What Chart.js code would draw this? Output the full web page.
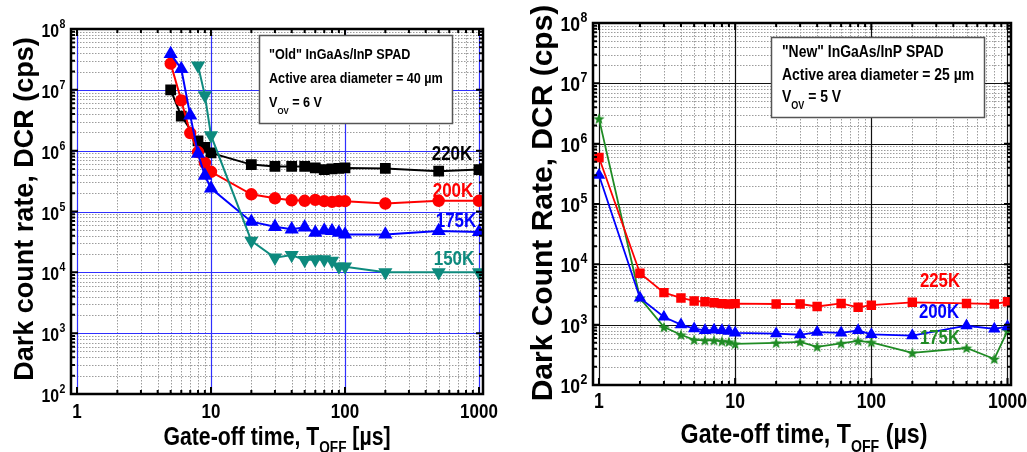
<!DOCTYPE html>
<html>
<head>
<meta charset="utf-8">
<script src="https://cdn.jsdelivr.net/npm/chart.js@4.4.1/dist/chart.umd.min.js"></script>
<style>
  html, body { margin: 0; padding: 0; background: #fff; }
  #wrap { position: relative; width: 1027px; height: 452px; }
  #wrap canvas { position: absolute; left: 0; top: 0; }
</style>
</head>
<body>
<div id="wrap">
  <canvas id="old-chart" width="1027" height="452"></canvas>
  <canvas id="new-chart" width="1027" height="452"></canvas>
</div>
<script>
// ---- data ----
// "Old" SPAD (left panel)
const oldX220 = [5, 6, 8, 9, 10, 20, 30, 40, 50, 60, 70, 80, 90, 100, 200, 500, 1000];
const oldDcr220 = [1.0e7, 3.7e6, 1.45e6, 1.13e6, 9.2e5, 5.9e5, 5.5e5, 5.5e5, 5.5e5, 5.2e5, 4.9e5, 5.0e5, 5.1e5, 5.2e5, 5.1e5, 4.6e5, 4.9e5];
const oldX200 = [5, 6, 7, 8, 9, 10, 20, 30, 40, 50, 60, 70, 80, 90, 100, 200, 500, 1000];
const oldDcr200 = [2.7e7, 6.7e6, 1.95e6, 9.5e5, 6.3e5, 4.5e5, 1.92e5, 1.65e5, 1.53e5, 1.5e5, 1.55e5, 1.48e5, 1.44e5, 1.48e5, 1.48e5, 1.35e5, 1.5e5, 1.5e5];
const oldX175 = [5, 6, 7, 8, 9, 10, 20, 30, 40, 50, 60, 70, 80, 90, 100, 200, 500, 1000];
const oldDcr175 = [3.9e7, 2.2e7, 3.8e6, 8.9e5, 3.9e5, 2.4e5, 6.8e4, 5.6e4, 5.1e4, 5.5e4, 4.5e4, 4.9e4, 4.8e4, 4.5e4, 4.2e4, 4.2e4, 4.8e4, 4.6e4];
const oldX150 = [8, 9, 10, 20, 30, 40, 50, 60, 70, 80, 90, 100, 200, 500, 1000];
const oldDcr150 = [2.5e7, 8.1e6, 1.78e6, 3.3e4, 1.74e4, 1.92e4, 1.59e4, 1.63e4, 1.63e4, 1.55e4, 1.24e4, 1.24e4, 1.0e4, 1.0e4, 1.0e4];

// "New" SPAD (right panel)
const newX = [1, 2, 3, 4, 5, 6, 7, 8, 9, 10, 20, 30, 40, 60, 80, 100, 200, 500, 800, 1000];
const newDcr225 = [5.9e5, 7.1e3, 3.4e3, 2.77e3, 2.47e3, 2.4e3, 2.3e3, 2.23e3, 2.2e3, 2.23e3, 2.2e3, 2.2e3, 2.0e3, 2.25e3, 1.94e3, 2.1e3, 2.35e3, 2.25e3, 2.2e3, 2.4e3];
const newDcr200 = [3.0e5, 2.77e3, 1.34e3, 1.0e3, 8.6e2, 8.05e2, 8.2e2, 8.0e2, 7.8e2, 7.3e2, 7.1e2, 6.8e2, 7.5e2, 7.3e2, 8.0e2, 6.9e2, 6.6e2, 9.6e2, 8.5e2, 9.3e2];
const newDcr175 = [2.6e6, 2.77e3, 9.1e2, 6.8e2, 5.6e2, 5.5e2, 5.5e2, 5.3e2, 5.2e2, 4.8e2, 5.0e2, 5.2e2, 4.3e2, 4.9e2, 5.4e2, 5.1e2, 3.4e2, 4.1e2, 2.7e2, 7.9e2];

// axis ticks
const xDecades = [1, 10, 100, 1000];
const xTickLabels = ['1', '10', '100', '1000'];
const yDecades = [1e2, 1e3, 1e4, 1e5, 1e6, 1e7, 1e8];
const yTickExps = ['2', '3', '4', '5', '6', '7', '8'];
const minorSteps = [2, 3, 4, 5, 6, 7, 8, 9];

const FONT = '"Liberation Sans", Arial, sans-serif';

function pts(xs, ys) {
  return xs.map((x, i) => ({ x: x, y: ys[i] }));
}

function minorsOf(decades) {
  const out = [];
  decades.slice(0, -1).forEach(d => minorSteps.forEach(m => out.push(d * m)));
  return out;
}

// little filled 5 point star used as a point style
function makeStar(color, size) {
  const c = document.createElement('canvas');
  c.width = size; c.height = size;
  const g = c.getContext('2d');
  const r = size / 2, r2 = r * 0.42;
  g.beginPath();
  for (let i = 0; i < 10; i++) {
    const rr = i % 2 ? r2 : r;
    const a = -Math.PI / 2 + i * Math.PI / 5;
    g.lineTo(r + rr * Math.cos(a), r + 0.5 + rr * Math.sin(a));
  }
  g.closePath();
  g.fillStyle = color;
  g.fill();
  return c;
}

// text drawn in runs so sub/superscripts are possible, squeezed horizontally by sx
function drawRuns(ctx, runs, x, y, align, sx, color) {
  ctx.save();
  ctx.fillStyle = color;
  ctx.textBaseline = 'alphabetic';
  ctx.textAlign = 'left';
  let w = 0;
  runs.forEach(r => { ctx.font = r.font; w += ctx.measureText(r.t).width; });
  w *= sx;
  let x0 = align === 'center' ? x - w / 2 : align === 'right' ? x - w : x;
  ctx.translate(x0, y);
  ctx.scale(sx, 1);
  let cx = 0;
  runs.forEach(r => {
    ctx.font = r.font;
    ctx.fillText(r.t, cx, r.dy || 0);
    cx += ctx.measureText(r.t).width;
  });
  ctx.restore();
}

function decorPlugin(cfg) {
  return {
    id: 'decor',
    beforeDatasetsDraw(chart) {
      const { ctx, chartArea: a, scales: { x, y } } = chart;
      ctx.save();
      ctx.beginPath();
      ctx.rect(a.left, a.top, a.right - a.left, a.bottom - a.top);
      ctx.clip();
      ctx.lineWidth = 1;
      // minor grid
      ctx.strokeStyle = '#9c9c9c';
      ctx.setLineDash([1.5, 1.5]);
      minorsOf(xDecades).forEach(v => {
        const px = Math.round(x.getPixelForValue(v)) + 0.5;
        ctx.beginPath(); ctx.moveTo(px, a.top); ctx.lineTo(px, a.bottom); ctx.stroke();
      });
      minorsOf(yDecades).forEach(v => {
        const py = Math.round(y.getPixelForValue(v)) + 0.5;
        ctx.beginPath(); ctx.moveTo(a.left, py); ctx.lineTo(a.right, py); ctx.stroke();
      });
      // major grid
      ctx.setLineDash([]);
      ctx.strokeStyle = cfg.majorColor;
      ctx.lineWidth = 1.2;
      xDecades.forEach(v => {
        const px = Math.round(x.getPixelForValue(v)) + 0.5;
        ctx.beginPath(); ctx.moveTo(px, a.top); ctx.lineTo(px, a.bottom); ctx.stroke();
      });
      yDecades.forEach(v => {
        const py = Math.round(y.getPixelForValue(v)) + 0.5;
        ctx.beginPath(); ctx.moveTo(a.left, py); ctx.lineTo(a.right, py); ctx.stroke();
      });
      ctx.restore();
    },
    afterDatasetsDraw(chart) {
      const { ctx, chartArea: a, scales: { x, y } } = chart;
      ctx.save();
      // tick marks pointing inward on all four sides
      ctx.strokeStyle = '#000';
      ctx.lineWidth = 2;
      const tick = (v, len, horiz) => {
        ctx.beginPath();
        if (horiz) {
          const px = x.getPixelForValue(v);
          ctx.moveTo(px, a.bottom); ctx.lineTo(px, a.bottom - len);
          ctx.moveTo(px, a.top); ctx.lineTo(px, a.top + len);
        } else {
          const py = y.getPixelForValue(v);
          ctx.moveTo(a.left, py); ctx.lineTo(a.left + len, py);
          ctx.moveTo(a.right, py); ctx.lineTo(a.right - len, py);
        }
        ctx.stroke();
      };
      xDecades.forEach(v => tick(v, 7, true));
      minorsOf(xDecades).forEach(v => tick(v, 4, true));
      yDecades.forEach(v => tick(v, 7, false));
      minorsOf(yDecades).forEach(v => tick(v, 4, false));
      // frame
      ctx.lineWidth = 2.5;
      ctx.strokeRect(a.left, a.top, a.right - a.left, a.bottom - a.top);
      ctx.restore();

      // x tick labels
      xDecades.forEach((v, i) => {
        drawRuns(ctx, [{ t: xTickLabels[i], font: 'bold ' + cfg.xTickSize + 'px ' + FONT }],
          x.getPixelForValue(v), cfg.xTickBase, 'center', cfg.xTickSx, '#000');
      });
      // y tick labels 10^n
      yDecades.forEach((v, i) => {
        const py = y.getPixelForValue(v);
        drawRuns(ctx, [{ t: '10', font: 'bold ' + cfg.yTickSize + 'px ' + FONT }],
          cfg.yTickRight, py + 8, 'right', 0.88, '#000');
        drawRuns(ctx, [{ t: yTickExps[i], font: 'bold ' + Math.round(cfg.yTickSize * 0.68) + 'px ' + FONT }],
          cfg.yTickRight + 0.5, py - 1, 'left', 0.88, '#000');
      });

      // y axis title
      ctx.save();
      ctx.translate(cfg.yTitle.x, cfg.yTitle.y);
      ctx.rotate(-Math.PI / 2);
      ctx.font = 'bold ' + cfg.yTitle.size + 'px ' + FONT;
      ctx.fillStyle = '#000';
      ctx.textAlign = 'center';
      ctx.textBaseline = 'alphabetic';
      ctx.fillText(cfg.yTitle.text, 0, 0);
      ctx.restore();

      // x axis title with T_OFF
      const xt = cfg.xTitle;
      const big = 'bold ' + xt.size + 'px ' + FONT;
      const small = 'bold ' + Math.round(xt.size * 0.62) + 'px ' + FONT;
      drawRuns(ctx, [
        { t: 'Gate-off time, T', font: big },
        { t: 'OFF', font: small, dy: xt.subDy },
        { t: ' ' + xt.unit, font: big }
      ], xt.x, xt.y, 'center', xt.sx, '#000');

      // annotation box
      const b = cfg.box;
      ctx.save();
      ctx.fillStyle = '#fff';
      ctx.fillRect(b.x, b.y, b.w, b.h);
      ctx.strokeStyle = '#555';
      ctx.lineWidth = 1.5;
      ctx.strokeRect(b.x + 0.5, b.y + 0.5, b.w, b.h);
      ctx.restore();
      const bf = 'bold ' + b.size + 'px ' + FONT;
      const bs = 'bold ' + Math.round(b.size * 0.65) + 'px ' + FONT;
      drawRuns(ctx, [{ t: b.lines[0], font: bf }], b.tx, b.base[0], 'left', b.sx, '#000');
      drawRuns(ctx, [{ t: b.lines[1], font: bf }], b.tx, b.base[1], 'left', b.sx, '#000');
      drawRuns(ctx, [
        { t: 'V', font: bf },
        { t: 'OV', font: bs, dy: b.subDy },
        { t: ' ' + b.lines[2], font: bf }
      ], b.tx, b.base[2], 'left', b.sx, '#000');

      // temperature labels
      cfg.tags.forEach(t => {
        drawRuns(ctx, [{ t: t.text, font: 'bold ' + cfg.tagSize + 'px ' + FONT }],
          t.x, t.y, 'center', cfg.tagSx, t.color);
      });
    }
  };
}

function scaleOpts(min, max, fixW, fixH, axis) {
  return {
    type: 'logarithmic',
    min: min,
    max: max,
    grid: { display: false },
    border: { display: false },
    ticks: { display: false },
    afterFit: s => {
      if (axis === 'y') s.width = fixW; else s.height = fixH;
    }
  };
}

function lineSet(label, data, color, style, radius, extra) {
  return Object.assign({
    label: label,
    data: data,
    borderColor: color,
    backgroundColor: color,
    pointBackgroundColor: color,
    pointBorderColor: color,
    borderWidth: 2,
    pointStyle: style,
    pointRadius: radius,
    pointHoverRadius: radius,
    tension: 0,
    fill: false
  }, extra || {});
}

const TEAL = '#0e8a7e';
const GREEN = '#1f8b24';

// ---- left: "Old" SPAD ----
new Chart(document.getElementById('old-chart'), {
  type: 'line',
  data: {
    datasets: [
      lineSet('150K', pts(oldX150, oldDcr150), TEAL, 'triangle', 6.2, { pointRotation: 180 }),
      lineSet('175K', pts(oldX175, oldDcr175), '#0000ff', 'triangle', 6.2),
      lineSet('200K', pts(oldX200, oldDcr200), '#ff0000', 'circle', 5.2),
      lineSet('220K', pts(oldX220, oldDcr220), '#000000', 'rect', 6.2)
    ]
  },
  options: {
    responsive: false,
    animation: false,
    layout: { padding: { left: 0, top: 29, right: 1027 - 483, bottom: 0 } },
    plugins: { legend: { display: false }, tooltip: { enabled: false } },
    scales: {
      x: scaleOpts(0.902, 1071, 0, 452 - 394, 'x'),
      y: scaleOpts(1e2, 1e8, 71, 0, 'y')
    }
  },
  plugins: [decorPlugin({
    majorColor: '#2f2fff',
    xTickSize: 20, xTickSx: 0.85, xTickBase: 418,
    yTickSize: 18, yTickRight: 59,
    yTitle: { text: 'Dark count rate, DCR (cps)', x: 33, y: 209, size: 27 },
    xTitle: { x: 277, y: 445, size: 25, sx: 0.85, unit: '[\u00b5s]', subDy: 8 },
    box: {
      x: 259, y: 35, w: 193, h: 88, tx: 269, base: [59, 83, 107], size: 14.5, sx: 0.87, subDy: 7,
      lines: ['"Old" InGaAs/InP SPAD', 'Active area diameter = 40 \u00b5m', '= 6 V']
    },
    tagSize: 20, tagSx: 0.85,
    tags: [
      { text: '220K', x: 452, y: 160, color: '#000' },
      { text: '200K', x: 453, y: 197, color: '#ff0000' },
      { text: '175K', x: 456, y: 227, color: '#0000ff' },
      { text: '150K', x: 454, y: 265, color: TEAL }
    ]
  })]
});

// ---- right: "New" SPAD ----
new Chart(document.getElementById('new-chart'), {
  type: 'line',
  data: {
    datasets: [
      lineSet('225K', pts(newX, newDcr225), '#ff0000', 'rect', 5.4, { borderWidth: 1.8 }),
      lineSet('200K', pts(newX, newDcr200), '#0000ff', 'triangle', 5.4, { borderWidth: 1.8 }),
      lineSet('175K', pts(newX, newDcr175), GREEN, makeStar(GREEN, 12), 6, { borderWidth: 1.8 })
    ]
  },
  options: {
    responsive: false,
    animation: false,
    layout: { padding: { left: 520, top: 23, right: 1027 - 1011, bottom: 0 } },
    plugins: { legend: { display: false }, tooltip: { enabled: false } },
    scales: {
      x: scaleOpts(0.904, 1061, 0, 452 - 385, 'x'),
      y: scaleOpts(1e2, 1e8, 593 - 520, 0, 'y')
    }
  },
  plugins: [decorPlugin({
    majorColor: '#111',
    xTickSize: 22, xTickSx: 0.8, xTickBase: 408,
    yTickSize: 20, yTickRight: 580,
    yTitle: { text: 'Dark Count Rate, DCR (cps)', x: 552, y: 203, size: 30 },
    xTitle: { x: 804, y: 443, size: 28, sx: 0.83, unit: '(\u00b5s)', subDy: 9 },
    box: {
      x: 771, y: 37, w: 213, h: 80, tx: 782, base: [57, 80, 102], size: 17, sx: 0.82, subDy: 7,
      lines: ['"New" InGaAs/InP SPAD', 'Active area diameter = 25 \u00b5m', '= 5 V']
    },
    tagSize: 21, tagSx: 0.8,
    tags: [
      { text: '225K', x: 940, y: 287, color: '#ff0000' },
      { text: '200K', x: 939, y: 318, color: '#0000ff' },
      { text: '175K', x: 940, y: 344, color: GREEN }
    ]
  })]
});
</script>
</body>
</html>
